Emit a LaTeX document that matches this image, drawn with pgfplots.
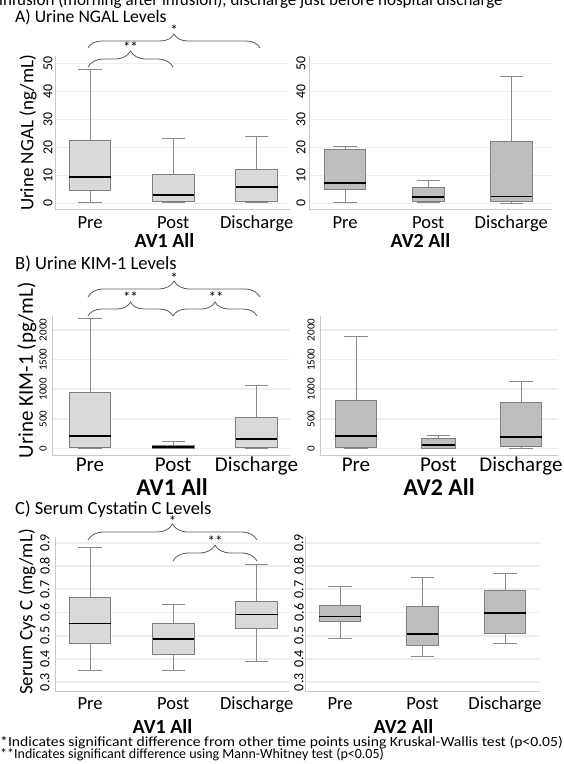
\documentclass[border=0pt]{standalone}
\usepackage{graphicx}
\usepackage{fontspec}
\setmainfont{Carlito}
\usepackage{pgfplots}
\pgfplotsset{compat=1.18}
\usetikzlibrary{decorations.pathreplacing}
\definecolor{avone}{HTML}{D9D9D9}
\definecolor{avtwo}{HTML}{BEBEBE}
\definecolor{boxline}{HTML}{7F7F7F}
\definecolor{whisk}{HTML}{8A8A8A}
\definecolor{gridc}{HTML}{EEEEEE}
\definecolor{axisc}{HTML}{C8C8C8}
\definecolor{brk}{HTML}{5A5A5A}
\newcommand\fs[1]{\fontsize{#1}{#1}\selectfont}
% \bx{fill}{position}{half box width}{lower whisker}{Q1}{median}{Q3}{upper whisker}
\newcommand\bx[8]{%
 \pgfmathsetmacro\bxL{#2-#3}\pgfmathsetmacro\bxR{#2+#3}%
 \pgfmathsetmacro\cL{#2-0.14}\pgfmathsetmacro\cR{#2+0.14}%
 \edef\bxcmd{%
  \noexpand\addplot[draw=whisk, line width=0.9pt] coordinates {(#2,#4) (#2,#5)};
  \noexpand\addplot[draw=whisk, line width=0.9pt] coordinates {(#2,#7) (#2,#8)};
  \noexpand\addplot[draw=whisk, line width=0.9pt] coordinates {(\cL,#4) (\cR,#4)};
  \noexpand\addplot[draw=whisk, line width=0.9pt] coordinates {(\cL,#8) (\cR,#8)};
  \noexpand\addplot[fill=#1, draw=boxline, line width=0.8pt] coordinates {(\bxL,#5) (\bxR,#5) (\bxR,#7) (\bxL,#7)} --cycle;
  \noexpand\addplot[draw=black, line width=1.6pt] coordinates {(\bxL,#6) (\bxR,#6)};
 }\bxcmd}
\pgfplotsset{
 panel/.style={
  scale only axis, clip=false,
  axis x line*=bottom, axis y line*=left,
  axis line style={draw=axisc, line width=0.8pt},
  major tick length=0pt,
  ymajorgrids, grid style={draw=gridc, line width=1.6pt},
  xtick={1,2,3}, xticklabels={Pre,Post,Discharge},
  /pgf/number format/assume math mode=true,
  /pgf/number format/1000 sep={},
  scaled y ticks=false,
  xlabel style={font=\bfseries\fs{20}, at={(axis description cs:0.5,0)}, anchor=base},
  ylabel style={font=\fs{19}, anchor=center},
 },
}
\begin{document}
\begin{tikzpicture}[x=1pt,y=1pt]
\useasboundingbox (0,0) rectangle (563,-764);
\node[anchor=base west, font=\fs{17}, inner sep=0pt] at (-1,-5.5) {infusion (morning after infusion), discharge just before hospital discharge};

% ---------------- A ----------------
\node[anchor=base west, font=\fs{17.7}, inner sep=0pt] at (15,-22.5) {A) Urine NGAL Levels};
\begin{axis}[panel, at={(55pt,-209pt)}, anchor=south west, width=235pt, height=153pt,
  xmin=0.58, xmax=3.40, ymin=-2.0, ymax=52.7, ytick={0,10,20,30,40,50},
  xticklabel style={font=\fs{18.5}, anchor=base, yshift=-19pt},
  yticklabel style={font=\fs{13.8}, xshift=-7pt, rotate=90, anchor=center},
  xlabel={AV1 All}, xlabel style={yshift=-38pt, xshift=-8pt},
  ylabel={Urine NGAL (ng/mL)}, ylabel style={at={(axis description cs:-0.115,0.497)}}]
\bx{avone}{1}{0.25}{0.5}{4.7}{9.5}{22.7}{47.9}
\bx{avone}{2}{0.25}{0.3}{0.8}{3.0}{10.5}{23.3}
\bx{avone}{3}{0.25}{0.5}{0.8}{5.8}{12.0}{24.1}
\end{axis}
\begin{axis}[panel, at={(309pt,-209pt)}, anchor=south west, width=243pt, height=153pt,
  xmin=0.566, xmax=3.49, ymin=-2.0, ymax=52.7, ytick={0,10,20,30,40,50},
  xticklabel style={font=\fs{18.5}, anchor=base, yshift=-19pt},
  yticklabel style={font=\fs{13.8}, xshift=-8pt, rotate=90, anchor=center},
  xlabel={AV2 All}, xlabel style={yshift=-38pt, xshift=-10pt}]
\bx{avtwo}{1}{0.25}{0.5}{5.0}{7.2}{19.2}{20.5}
\bx{avtwo}{2}{0.195}{0.4}{0.8}{2.3}{5.6}{8.2}
\bx{avtwo}{3}{0.25}{0.1}{0.7}{2.5}{22.1}{45.4}
\end{axis}
\draw[brk, line width=0.8pt, decorate, decoration={brace, amplitude=14pt}] (88,-48) -- (260,-48);
\node[anchor=base, font=\fs{15}, inner sep=0pt] at (174,-35) {*};
\draw[brk, line width=0.8pt, decorate, decoration={brace, amplitude=16pt}] (88,-67) -- (173,-67);
\node[anchor=base, font=\fs{15}, inner sep=0pt] at (130.5,-52) {**};

% ---------------- B ----------------
\node[anchor=base west, font=\fs{18.6}, inner sep=0pt] at (15,-269) {B) Urine KIM-1 Levels};
\begin{axis}[panel, at={(52pt,-455pt)}, anchor=south west, width=238pt, height=139pt,
  xmin=0.544, xmax=3.403, ymin=-110, ymax=2236, ytick={0,500,1000,1500,2000},
  xticklabel style={font=\fs{21}, anchor=base, yshift=-16pt},
  yticklabel style={font=\fs{11}, xshift=-9pt, rotate=90, anchor=center},
  xlabel={AV1 All}, xlabel style={font=\bfseries\fs{24}, yshift=-40pt, xshift=1pt},
  ylabel={Urine KIM-1 (pg/mL)}, ylabel style={font=\fs{21}, at={(axis description cs:-0.105,0.61)}}]
\bx{avone}{1}{0.25}{0}{20}{211}{942}{2197}
\bx{avone}{2}{0.25}{0}{3}{22}{48}{127}
\bx{avone}{3}{0.25}{0}{20}{160}{526}{1072}
\end{axis}
\begin{axis}[panel, at={(320pt,-455pt)}, anchor=south west, width=238pt, height=139pt,
  xmin=0.564, xmax=3.449, ymin=-110, ymax=2236, ytick={0,500,1000,1500,2000},
  xticklabel style={font=\fs{21}, anchor=base, yshift=-16pt},
  yticklabel style={font=\fs{11}, xshift=-9pt, rotate=90, anchor=center},
  xlabel={AV2 All}, xlabel style={font=\bfseries\fs{24}, yshift=-40pt, xshift=0pt}]
\bx{avtwo}{1}{0.25}{0}{12}{211}{819}{1887}
\bx{avtwo}{2}{0.205}{0}{5}{59}{172}{228}
\bx{avtwo}{3}{0.25}{0}{30}{194}{773}{1128}
\end{axis}
\draw[brk, line width=0.8pt, decorate, decoration={brace, amplitude=16pt}] (88,-297) -- (260,-297);
\node[anchor=base, font=\fs{15}, inner sep=0pt] at (174,-283) {*};
\draw[brk, line width=0.8pt, decorate, decoration={brace, amplitude=14pt}] (88,-316) -- (173,-316);
\draw[brk, line width=0.8pt, decorate, decoration={brace, amplitude=14pt}] (173,-316) -- (257,-316);
\node[anchor=base, font=\fs{15}, inner sep=0pt] at (130.5,-302) {**};
\node[anchor=base, font=\fs{15}, inner sep=0pt] at (216,-302) {**};

% ---------------- C ----------------
\node[anchor=base west, font=\fs{18.5}, inner sep=0pt] at (15,-514.5) {C) Serum Cystatin C Levels};
\begin{axis}[panel, at={(55pt,-691pt)}, anchor=south west, width=235pt, height=154pt,
  xmin=0.58, xmax=3.40, ymin=0.262, ymax=0.925, ytick={0.3,0.4,0.5,0.6,0.7,0.8,0.9},
  /pgf/number format/fixed, /pgf/number format/precision=1,
  xticklabel style={font=\fs{18.5}, anchor=base, yshift=-18pt},
  yticklabel style={font=\fs{14}, xshift=-10pt, rotate=90, anchor=center},
  xlabel={AV1 All}, xlabel style={yshift=-42pt, xshift=-10pt},
  ylabel={Serum Cys C (mg/mL)}, ylabel style={at={(axis description cs:-0.119,0.513)}}]
\bx{avone}{1}{0.25}{0.349}{0.468}{0.552}{0.664}{0.881}
\bx{avone}{2}{0.25}{0.349}{0.420}{0.487}{0.551}{0.633}
\bx{avone}{3}{0.25}{0.391}{0.533}{0.591}{0.646}{0.806}
\end{axis}
\begin{axis}[panel, at={(305pt,-691pt)}, anchor=south west, width=235pt, height=154pt,
  xmin=0.576, xmax=3.424, ymin=0.262, ymax=0.925, ytick={0.3,0.4,0.5,0.6,0.7,0.8,0.9},
  /pgf/number format/fixed, /pgf/number format/precision=1,
  xticklabel style={font=\fs{18.5}, anchor=base, yshift=-18pt},
  yticklabel style={font=\fs{14}, xshift=-6pt, rotate=90, anchor=center},
  xlabel={AV2 All}, xlabel style={yshift=-42pt, xshift=-19pt}]
\bx{avtwo}{1}{0.25}{0.487}{0.561}{0.582}{0.631}{0.714}
\bx{avtwo}{2}{0.19}{0.409}{0.457}{0.507}{0.628}{0.752}
\bx{avtwo}{3}{0.25}{0.465}{0.511}{0.599}{0.693}{0.767}
\end{axis}
\draw[brk, line width=0.8pt, decorate, decoration={brace, amplitude=16pt}] (88,-540) -- (257,-540);
\node[anchor=base, font=\fs{15}, inner sep=0pt] at (172.5,-526) {*};
\draw[brk, line width=0.8pt, decorate, decoration={brace, amplitude=16pt}] (173,-561) -- (257,-561);
\node[anchor=base, font=\fs{15}, inner sep=0pt] at (215,-546) {**};

% footnotes
\node[anchor=base west, font=\fs{14}, inner sep=0pt] at (0,-746.5) {\scalebox{1.12}[1]{*Indicates significant difference from other time points using Kruskal-Wallis test (p<0.05)}};
\node[anchor=base west, font=\fs{14}, inner sep=0pt] at (0,-758.5) {**Indicates significant difference using Mann-Whitney test (p<0.05)};
\end{tikzpicture}
\end{document}
